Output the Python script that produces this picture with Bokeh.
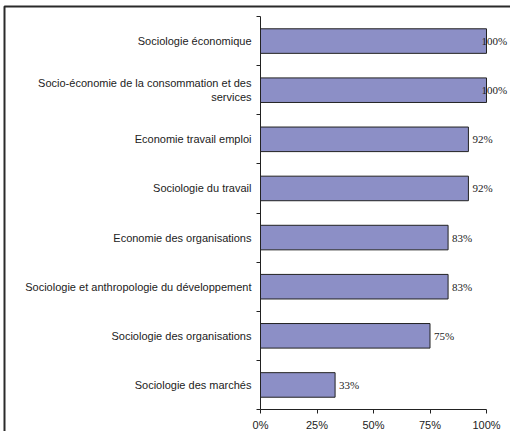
from bokeh.plotting import figure
from bokeh.models import Range1d, FixedTicker, ColumnDataSource, LabelSet, BoxAnnotation
from bokeh.embed import file_html
from bokeh.resources import INLINE

categories = [
    "Sociologie économique",
    "Socio-économie de la consommation et des\nservices",
    "Economie travail emploi",
    "Sociologie du travail",
    "Economie des organisations",
    "Sociologie et anthropologie du développement",
    "Sociologie des organisations",
    "Sociologie des marchés",
]
values = [100, 100, 92, 92, 83, 83, 75, 33]
x_ticks = [0, 25, 50, 75, 100]
x_tick_labels = ["0%", "25%", "50%", "75%", "100%"]

n = len(categories)
ypos = [n - 1 - i + 0.5 for i in range(n)]
labels = [f"{v}%" for v in values]
offsets = [-5 if v >= 100 else 4 for v in values]

src = ColumnDataSource(dict(y=ypos, v=values, lab=labels, off=offsets))

# canvas geometry (pixels)
W, H = 510, 431
X0_PX, X100_PX = 260, 486
YTOP_PX, YBOT_PX = 16, 409
sx = (X100_PX - X0_PX) / 100
sy = (YBOT_PX - YTOP_PX) / n
x_range = Range1d(-X0_PX / sx, (W - X0_PX) / sx)
y_range = Range1d(-(H - YBOT_PX) / sy, n + YTOP_PX / sy)

p = figure(
    width=W, height=H,
    output_backend="svg", toolbar_location=None,
    x_range=x_range, y_range=y_range,
    min_border=0,
)
p.outline_line_color = None
p.grid.visible = False
p.background_fill_color = "white"
p.border_fill_color = "white"

# chart-area border (left and top edges visible); screen y counts from the bottom
p.add_layout(BoxAnnotation(left=4, right=W + 20, top=H - 6, bottom=-20,
                           left_units="screen", right_units="screen",
                           top_units="screen", bottom_units="screen",
                           fill_color=None, fill_alpha=0,
                           line_color="#2a2a2a", line_width=2, line_alpha=1))

p.hbar(y="y", right="v", left=0, height=0.5, source=src,
       fill_color="#8C8FC6", line_color="#222222", line_width=1)
p.add_layout(LabelSet(x="v", y="y", text="lab", x_offset="off", source=src,
                      text_align="left", text_baseline="middle", text_font_size="11px",
                      text_font="Liberation Sans", text_color="#222222"))

# x axis
xa = p.xaxis[0]
xa.fixed_location = 0
xa.bounds = (0, 100)
xa.ticker = FixedTicker(ticks=x_ticks)
xa.major_label_overrides = {t: l for t, l in zip(x_ticks, x_tick_labels)}
xa.major_tick_in = 0
xa.major_tick_out = 4
xa.minor_tick_line_color = None
xa.major_label_standoff = 5
xa.major_label_text_font = "Liberation Sans"
xa.major_label_text_font_size = "11px"
xa.major_label_text_color = "#222222"
xa.axis_line_color = "#222222"
xa.major_tick_line_color = "#222222"

# y axis: labels at category centres, ticks at boundaries
ya = p.yaxis[0]
ya.fixed_location = 0
ya.bounds = (0, n)
ya.ticker = FixedTicker(ticks=ypos, minor_ticks=list(range(n + 1)))
ya.major_label_overrides = {y: c for y, c in zip(ypos, categories)}
ya.major_tick_line_color = None
ya.major_tick_in = 0
ya.major_tick_out = 0
ya.minor_tick_in = 0
ya.minor_tick_out = 4
ya.minor_tick_line_color = "#222222"
ya.axis_line_color = "#222222"
ya.major_label_standoff = 5
ya.major_label_text_font = "Liberation Sans"
ya.major_label_text_font_size = "11px"
ya.major_label_text_color = "#222222"

open("out.html", "w").write(file_html(p, INLINE))
